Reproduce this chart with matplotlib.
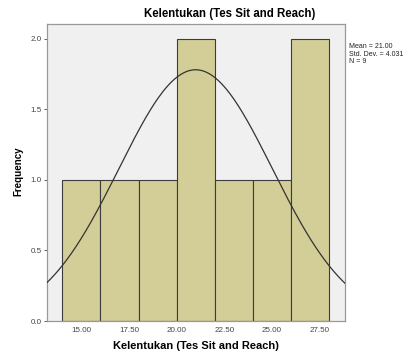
import numpy as np
import matplotlib
matplotlib.use("Agg")
from matplotlib import pyplot

plt = pyplot
plt.rcParams['font.family'] = ['Liberation Sans', 'DejaVu Sans']

# histogram data
bin_edges = [14, 16, 18, 20, 22, 24, 26, 28]
counts = [1, 1, 1, 2, 1, 1, 2]
mean = 21.00
std_dev = 4.031
n = 9
x_ticks = [15.0, 17.5, 20.0, 22.5, 25.0, 27.5]
y_ticks = [0.0, 0.5, 1.0, 1.5, 2.0]

fig = plt.figure(figsize=(4.11, 3.56), dpi=100)
ax = fig.add_axes([0.1144, 0.0983, 0.725, 0.8343])
ax.set_facecolor("#f0f0f0")

widths = np.diff(bin_edges)
ax.bar(bin_edges[:-1], counts, width=widths, align="edge",
       color="#d3ce98", edgecolor="#3c3c3c", linewidth=0.8, zorder=2)

# normal curve
xs = np.linspace(13.19, 28.85, 300)
bw = bin_edges[1] - bin_edges[0]
ys = n * bw / (std_dev * np.sqrt(2 * np.pi)) * np.exp(-0.5 * ((xs - mean) / std_dev) ** 2)
ax.plot(xs, ys, color="#333333", linewidth=0.9, zorder=3)

ax.set_xlim(13.19, 28.85)
ax.set_ylim(0, 2.106)
ax.set_xticks(x_ticks)
ax.set_xticklabels(["%.2f" % t for t in x_ticks])
ax.set_yticks(y_ticks)
ax.set_yticklabels(["%.1f" % t for t in y_ticks])
ax.tick_params(axis="both", labelsize=5.8, colors="#444444", length=2.5, width=0.6, pad=1.5)
ax.tick_params(axis="x", length=0, pad=4)
for s in ax.spines.values():
    s.set_color("#999999")
    s.set_linewidth(0.9)

ax.set_xlabel("Kelentukan (Tes Sit and Reach)", fontsize=8, fontweight="bold", labelpad=5)
fig.text(0.044, 0.52, "Frequency", fontsize=7, fontweight="bold",
         rotation=90, ha="center", va="center")
fig.text(0.56, 0.96, "Kelentukan (Tes Sit and Reach)", fontsize=8.3,
         fontweight="bold", ha="center", va="center")

fig.text(0.849, 0.878, "Mean = %.2f\nStd. Dev. = %.3f\nN = %d" % (mean, std_dev, n),
         fontsize=5, va="top", ha="left", color="#222222", linespacing=1.05)

fig.savefig("out.png", dpi=100)
